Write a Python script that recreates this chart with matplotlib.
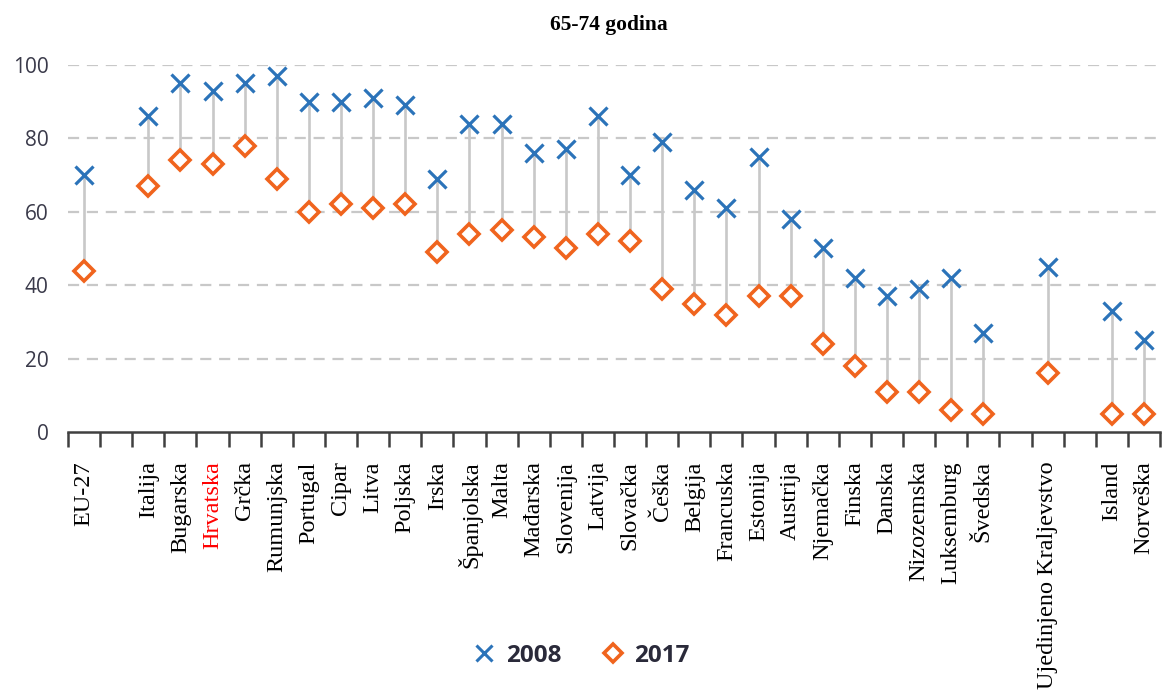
import matplotlib
matplotlib.use("Agg")
import matplotlib.pyplot as plt
from matplotlib.lines import Line2D
import numpy as np

categories = ["EU-27", "", "Italija", "Bugarska", "Hrvatska", "Grčka", "Rumunjska", "Portugal",
              "Cipar", "Litva", "Poljska", "Irska", "Španjolska", "Malta", "Mađarska",
              "Slovenija", "Latvija", "Slovačka", "Češka", "Belgija", "Francuska", "Estonija",
              "Austrija", "Njemačka", "Finska", "Danska", "Nizozemska", "Luksemburg", "Švedska",
              "", "Ujedinjeno Kraljevstvo", "", "Island", "Norveška"]
v2008 = [70, None, 86, 95, 93, 95, 97, 90, 90, 91, 89, 69, 84, 84, 76, 77, 86, 70, 79, 66, 61,
         75, 58, 50, 42, 37, 39, 42, 27, None, 45, None, 33, 25]
v2017 = [44, None, 67, 74, 73, 78, 69, 60, 62, 61, 62, 49, 54, 55, 53, 50, 54, 52, 39, 35, 32,
         37, 37, 24, 18, 11, 11, 6, 5, None, 16, None, 5, 5]
yticks = [0, 20, 40, 60, 80, 100]
title = "65-74 godina"
series_names = ["2008", "2017"]

BLUE = "#2b73b9"
ORANGE = "#f0641e"
GRAY = "#c8c8c8"

fig = plt.figure(figsize=(11.66, 6.91), dpi=100)
ax = fig.add_axes([68 / 1166, 1 - 432 / 691, (1160 - 68) / 1166, (432 - 65) / 691])

x = np.arange(len(categories))
xs = [i for i in x if v2008[i] is not None]
a = np.array([v2008[i] for i in xs], dtype=float)
b = np.array([v2017[i] for i in xs], dtype=float)

ax.vlines(xs, b, a, colors=GRAY, linewidth=1.9, zorder=2)
ax.plot(xs, a, linestyle="none", marker="x", markersize=12.5, markeredgewidth=2.3,
        color=BLUE, zorder=3, clip_on=False)
ax.plot(xs, b, linestyle="none", marker="D", markersize=10, markeredgewidth=2.6,
        markerfacecolor="white", markeredgecolor=ORANGE, zorder=3, clip_on=False)

ax.set_xlim(-0.5, len(categories) - 0.5)
ax.set_ylim(0, 100)
ax.set_yticks(yticks)
ax.set_yticklabels([str(t) for t in yticks], fontsize=15, color="#3a3a4a", family="Open Sans")
ax.tick_params(axis="y", length=0, pad=14)
for t in yticks[1:]:
    ax.axhline(t, color=GRAY, linewidth=1.6, linestyle=(0, (5, 3.5)), zorder=1)

ax.set_xticks(x)
ax.set_xticklabels(categories, rotation=90, fontsize=17.5, family="Liberation Serif",
                   va="top", ha="center")
ax.tick_params(axis="x", which="major", length=0, pad=21)
ax.set_xticks(np.arange(-0.5, len(categories)), minor=True)
ax.tick_params(axis="x", which="minor", length=10.5, width=1.8, color="#404040", direction="out")
for lbl in ax.get_xticklabels():
    if lbl.get_text() == "Hrvatska":
        lbl.set_color("red")

for s in ["top", "right", "left"]:
    ax.spines[s].set_visible(False)
ax.spines["bottom"].set_color("#404040")
ax.spines["bottom"].set_linewidth(1.8)

fig.text(609 / 1166, 1 - 25 / 691, title, ha="center", va="center", fontsize=15.5,
         fontweight="bold", family="Liberation Serif")

handles = [Line2D([], [], linestyle="none", marker="x", markersize=12, markeredgewidth=2.2, color=BLUE),
           Line2D([], [], linestyle="none", marker="D", markersize=9.5, markeredgewidth=2.6,
                  markerfacecolor="white", markeredgecolor=ORANGE)]
leg = fig.legend(handles, series_names, loc="center", bbox_to_anchor=(581 / 1166, 1 - 656 / 691),
                 ncol=2, frameon=False, handlelength=1.0, handletextpad=0.4, columnspacing=1.6,
                 prop={"family": "Open Sans", "weight": "bold", "size": 17.5})
for t in leg.get_texts():
    t.set_color("#2a2a3a")

fig.savefig("out.png", dpi=100)
